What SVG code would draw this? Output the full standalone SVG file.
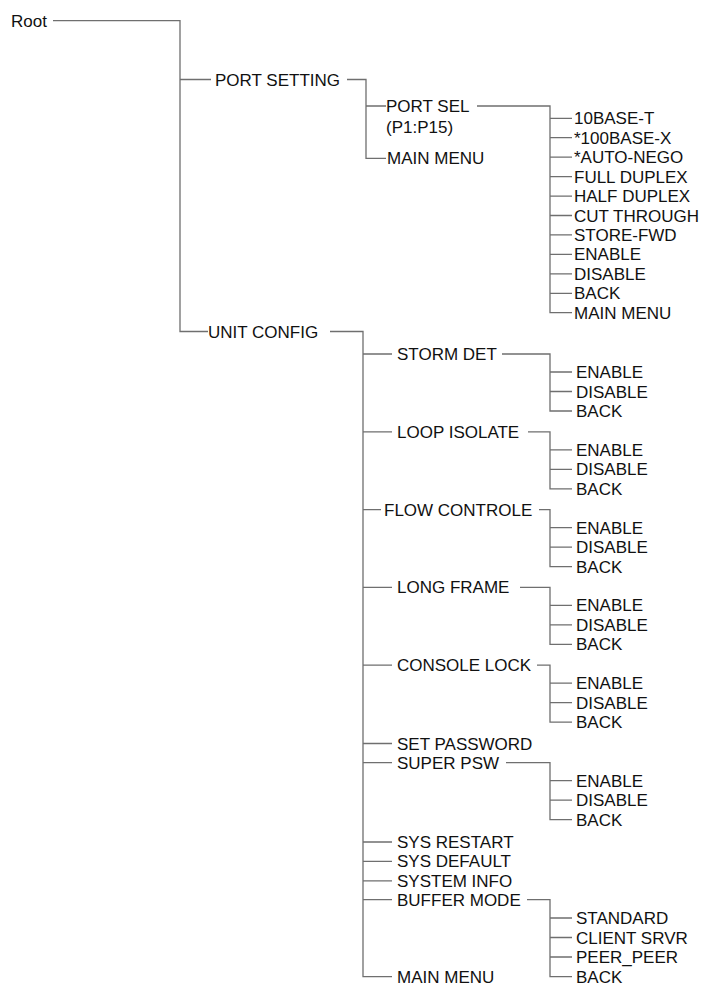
<svg xmlns="http://www.w3.org/2000/svg" width="708" height="1000" viewBox="0 0 708 1000">
<style>
text{font-family:"Liberation Sans",Arial,sans-serif;font-size:17px;fill:#111}
.c path{stroke:#6f6f6f;stroke-width:1.3;fill:none}
</style>
<rect width="708" height="1000" fill="#fff"/>
<g class="c" id="connectors">
<path d="M53 20.7H180V331.5H208"/>
<path d="M180 79.5H211M347 79.5H366V158.3H386M366 106H386"/>
<path d="M477 106H550V312.7H572M550 118.3H572M550 137.7H572M550 157.2H572M550 176.6H572M550 196.1H572M550 215.5H572M550 234.9H572M550 254.4H572M550 273.8H572M550 293.3H572"/>
<path d="M330 331.5H363V976.7H392M363 354H392M363 431.8H392M363 509.6H381M363 587.4H392M363 665.2H392M363 743.5H392M363 762.7H392M363 842H392M363 861.4H392M363 880.8H392M363 899.6H392"/>
<path d="M502 354H550V411H572M550 372H572M550 391.5H572"/>
<path d="M528 431.8H550V488.8H572M550 449.8H572M550 469.3H572"/>
<path d="M539 509.6H550V566.6H572M550 527.6H572M550 547.1H572"/>
<path d="M520 587.4H550V644.4H572M550 605.4H572M550 624.9H572"/>
<path d="M537 665.2H550V722.2H572M550 683.2H572M550 702.7H572"/>
<path d="M506 762.7H550V819.7H572M550 780.7H572M550 800.2H572"/>
<path d="M527 899.6H550V976.7H572M550 918H572M550 937.5H572M550 957H572"/>
</g>
<g id="root"><text x="11" y="26.7">Root</text></g>
<g id="port-setting"><text x="215" y="85.5">PORT SETTING</text></g>
<g id="port-sel"><text x="386" y="112">PORT SEL</text><text x="386" y="132.5">(P1:P15)</text></g>
<g id="ps-main-menu"><text x="387" y="164.3">MAIN MENU</text></g>
<g id="port-sel-options">
<text x="574" y="124.3">10BASE-T</text>
<text x="574" y="143.7">*100BASE-X</text>
<text x="574" y="163.2">*AUTO-NEGO</text>
<text x="574" y="182.6">FULL DUPLEX</text>
<text x="574" y="202.1">HALF DUPLEX</text>
<text x="574" y="221.5">CUT THROUGH</text>
<text x="574" y="240.9">STORE-FWD</text>
<text x="574" y="260.4">ENABLE</text>
<text x="574" y="279.8">DISABLE</text>
<text x="574" y="299.3">BACK</text>
<text x="574" y="318.7">MAIN MENU</text>
</g>
<g id="unit-config"><text x="208" y="337.5">UNIT CONFIG</text></g>
<g id="storm-det"><text x="397" y="360">STORM DET</text>
<text x="576" y="378">ENABLE</text><text x="576" y="397.5">DISABLE</text><text x="576" y="417">BACK</text></g>
<g id="loop-isolate"><text x="397" y="437.8">LOOP ISOLATE</text>
<text x="576" y="455.8">ENABLE</text><text x="576" y="475.3">DISABLE</text><text x="576" y="494.8">BACK</text></g>
<g id="flow-controle"><text x="384" y="515.6">FLOW CONTROLE</text>
<text x="576" y="533.6">ENABLE</text><text x="576" y="553.1">DISABLE</text><text x="576" y="572.6">BACK</text></g>
<g id="long-frame"><text x="397" y="593.4">LONG FRAME</text>
<text x="576" y="611.4">ENABLE</text><text x="576" y="630.9">DISABLE</text><text x="576" y="650.4">BACK</text></g>
<g id="console-lock"><text x="397" y="671.2">CONSOLE LOCK</text>
<text x="576" y="689.2">ENABLE</text><text x="576" y="708.7">DISABLE</text><text x="576" y="728.2">BACK</text></g>
<g id="set-password"><text x="397" y="749.5">SET PASSWORD</text></g>
<g id="super-psw"><text x="397" y="768.7">SUPER PSW</text>
<text x="576" y="786.7">ENABLE</text><text x="576" y="806.2">DISABLE</text><text x="576" y="825.7">BACK</text></g>
<g id="sys-restart"><text x="397" y="848">SYS RESTART</text></g>
<g id="sys-default"><text x="397" y="867.4">SYS DEFAULT</text></g>
<g id="system-info"><text x="397" y="886.8">SYSTEM INFO</text></g>
<g id="buffer-mode"><text x="397" y="905.6">BUFFER MODE</text>
<text x="576" y="924">STANDARD</text><text x="576" y="943.5">CLIENT SRVR</text><text x="576" y="963">PEER_PEER</text><text x="576" y="982.7">BACK</text></g>
<g id="uc-main-menu"><text x="397" y="982.7">MAIN MENU</text></g>
</svg>
